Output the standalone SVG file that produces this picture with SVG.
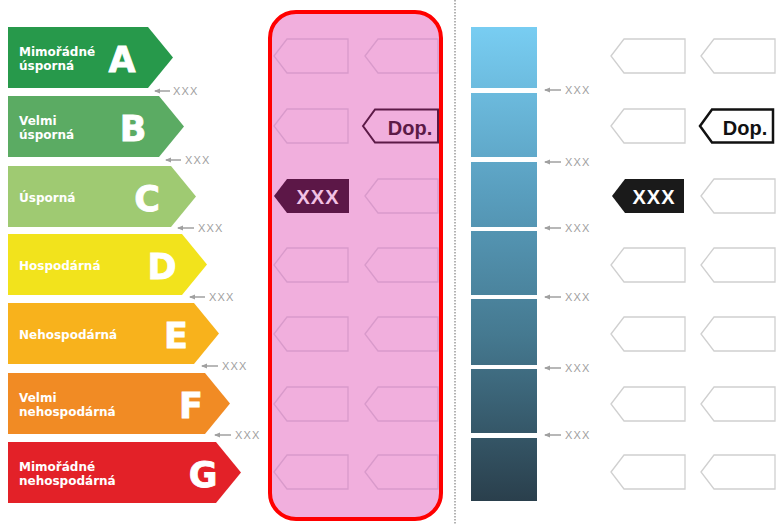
<svg xmlns="http://www.w3.org/2000/svg" width="779" height="524" viewBox="0 0 779 524">
<style>
.lbl{font-family:"DejaVu Sans","Liberation Sans",sans-serif;font-weight:bold;font-size:12px;fill:#fff}
.big{font-family:"DejaVu Sans","Liberation Sans",sans-serif;font-weight:bold;font-size:35px;fill:#fff;text-anchor:middle;stroke:#fff;stroke-width:0.8}
.xx{font-family:"Liberation Sans",sans-serif;font-size:11px;fill:#a0a0a0;letter-spacing:1.2px}
.ptag{fill:none;stroke:#d99acb;stroke-width:1.3}
.gtag{fill:#fff;stroke:#d0d0d0;stroke-width:1.3}
.tagtxt{font-family:"Liberation Sans",sans-serif;font-weight:bold;font-size:20px;text-anchor:middle}
.conn{stroke:#a0a0a0;stroke-width:1.5;fill:none}
</style>
<defs>
<path id="tag" d="M0,17 L13,0 L74,0 L74,34 L13,34 Z"/>
<path id="tag2" d="M0,17 L13,0 L73,0 L73,34 L13,34 Z"/>
<marker id="ah" markerWidth="6" markerHeight="6" refX="1" refY="3" orient="auto" markerUnits="userSpaceOnUse">
<path d="M6,0.5 L0,3 L6,5.5 Z" fill="#a0a0a0"/>
</marker>
<linearGradient id="blue" gradientUnits="userSpaceOnUse" x1="0" y1="27" x2="0" y2="501">
<stop offset="0" stop-color="#78cdf2"/>
<stop offset="0.35" stop-color="#599ebe"/>
<stop offset="0.65" stop-color="#457990"/>
<stop offset="1" stop-color="#2a3f4c"/>
</linearGradient>
</defs>
<rect width="779" height="524" fill="#fff"/>

<g id="classA">
<polygon points="8,27 148,27 173,57.5 148,88 8,88" fill="#27994b"/>
<text class="lbl" x="19" y="56">Mimořádné</text>
<text class="lbl" x="19" y="70">úsporná</text>
<text class="big" x="122" y="72">A</text>
</g>
<g id="classB">
<polygon points="8,96 159,96 184,126.5 159,157 8,157" fill="#5bab63"/>
<text class="lbl" x="19" y="125">Velmi</text>
<text class="lbl" x="19" y="139">úsporná</text>
<text class="big" x="133" y="141">B</text>
</g>
<g id="classC">
<polygon points="8,166 171,166 196,196.5 171,227 8,227" fill="#9fca72"/>
<text class="lbl" x="19" y="202">Úsporná</text>
<text class="big" x="147" y="211">C</text>
</g>
<g id="classD">
<polygon points="8,234 182,234 207,264.5 182,295 8,295" fill="#f2e31c"/>
<text class="lbl" x="19" y="270">Hospodárná</text>
<text class="big" x="162" y="279">D</text>
</g>
<g id="classE">
<polygon points="8,303 194,303 219,333.5 194,364 8,364" fill="#f8b21c"/>
<text class="lbl" x="19" y="339">Nehospodárná</text>
<text class="big" x="176" y="348">E</text>
</g>
<g id="classF">
<polygon points="8,373 205,373 230,403.5 205,434 8,434" fill="#f18b24"/>
<text class="lbl" x="19" y="402">Velmi</text>
<text class="lbl" x="19" y="416">nehospodárná</text>
<text class="big" x="191" y="418">F</text>
</g>
<g id="classG">
<polygon points="8,442 216,442 241,472.5 216,503 8,503" fill="#e32128"/>
<text class="lbl" x="19" y="471">Mimořádné</text>
<text class="lbl" x="19" y="485">nehospodárná</text>
<text class="big" x="203" y="487">G</text>
</g>

<g id="connectors">
<line class="conn" x1="155" y1="91" x2="170" y2="91" marker-start="url(#ah)"/>
<line class="conn" x1="166" y1="160" x2="181" y2="160" marker-start="url(#ah)"/>
<line class="conn" x1="178" y1="228" x2="194" y2="228" marker-start="url(#ah)"/>
<line class="conn" x1="190" y1="297" x2="205" y2="297" marker-start="url(#ah)"/>
<line class="conn" x1="202" y1="366" x2="218" y2="366" marker-start="url(#ah)"/>
<line class="conn" x1="215" y1="435" x2="231" y2="435" marker-start="url(#ah)"/>
<line class="conn" x1="545" y1="90" x2="561" y2="90" marker-start="url(#ah)"/>
<line class="conn" x1="545" y1="162" x2="561" y2="162" marker-start="url(#ah)"/>
<line class="conn" x1="545" y1="228" x2="561" y2="228" marker-start="url(#ah)"/>
<line class="conn" x1="545" y1="297" x2="561" y2="297" marker-start="url(#ah)"/>
<line class="conn" x1="545" y1="368" x2="561" y2="368" marker-start="url(#ah)"/>
<line class="conn" x1="545" y1="435" x2="561" y2="435" marker-start="url(#ah)"/>
</g>

<g id="thresholds">
<text class="xx" x="173" y="95">XXX</text>
<text class="xx" x="185" y="164">XXX</text>
<text class="xx" x="198" y="232">XXX</text>
<text class="xx" x="209" y="301">XXX</text>
<text class="xx" x="222" y="370">XXX</text>
<text class="xx" x="235" y="439">XXX</text>
<text class="xx" x="565" y="94">XXX</text>
<text class="xx" x="565" y="166">XXX</text>
<text class="xx" x="565" y="232">XXX</text>
<text class="xx" x="565" y="301">XXX</text>
<text class="xx" x="565" y="372">XXX</text>
<text class="xx" x="565" y="439">XXX</text>
</g>

<g id="pinkPanel">
<rect x="270" y="12" width="171" height="507" rx="26" ry="26" fill="#f1afdd"/>
<use href="#tag" class="ptag" x="274" y="39"/>
<use href="#tag2" class="ptag" x="365" y="39"/>
<use href="#tag" class="ptag" x="274" y="109"/>
<use href="#tag" class="ptag" x="274" y="248"/>
<use href="#tag2" class="ptag" x="365" y="179"/>
<use href="#tag2" class="ptag" x="365" y="248"/>
<use href="#tag" class="ptag" x="274" y="317"/>
<use href="#tag2" class="ptag" x="365" y="317"/>
<use href="#tag" class="ptag" x="274" y="387"/>
<use href="#tag2" class="ptag" x="365" y="387"/>
<use href="#tag" class="ptag" x="274" y="455"/>
<use href="#tag2" class="ptag" x="365" y="455"/>
</g>
<g id="pinkDop">
<path d="M363,126 L375,109.5 L438,109.5 L438,142.5 L375,142.5 Z" fill="#f1afdd" stroke="#5c1a47" stroke-width="2"/>
<text class="tagtxt" x="410" y="135" fill="#5c1a47">Dop.</text>
</g>
<g id="pinkXXX">
<path d="M274,196 L287,179 L349,179 L349,213 L287,213 Z" fill="#5c1747"/>
<text class="tagtxt" x="318" y="203.5" fill="#f2c2e4" letter-spacing="1">XXX</text>
</g>
<rect id="pinkBorder" x="270" y="12" width="171" height="507" rx="26" ry="26" fill="none" stroke="#ff0000" stroke-width="4"/>

<line id="divider" x1="455" y1="0" x2="455" y2="524" stroke="#9a9a9a" stroke-width="1.5" stroke-dasharray="1.5 1.5"/>

<g id="blueScale" fill="url(#blue)">
<rect x="471" y="27" width="66" height="61"/>
<rect x="471" y="93" width="66" height="64"/>
<rect x="471" y="162" width="66" height="65"/>
<rect x="471" y="231" width="66" height="64"/>
<rect x="471" y="299" width="66" height="66"/>
<rect x="471" y="369" width="66" height="64"/>
<rect x="471" y="438" width="66" height="63"/>
</g>

<g id="greyTags">
<use href="#tag" class="gtag" x="611" y="39"/>
<use href="#tag" class="gtag" x="701" y="39"/>
<use href="#tag" class="gtag" x="611" y="109"/>
<use href="#tag" class="gtag" x="701" y="179"/>
<use href="#tag" class="gtag" x="611" y="248"/>
<use href="#tag" class="gtag" x="701" y="248"/>
<use href="#tag" class="gtag" x="611" y="317"/>
<use href="#tag" class="gtag" x="701" y="317"/>
<use href="#tag" class="gtag" x="611" y="387"/>
<use href="#tag" class="gtag" x="701" y="387"/>
<use href="#tag" class="gtag" x="611" y="455"/>
<use href="#tag" class="gtag" x="701" y="455"/>
</g>
<g id="greyDop">
<path d="M700,126 L712,109.5 L773,109.5 L773,142.5 L712,142.5 Z" fill="#fff" stroke="#111" stroke-width="2.5"/>
<text class="tagtxt" x="745" y="135" fill="#111">Dop.</text>
</g>
<g id="greyXXX">
<path d="M612,196 L625,179 L684,179 L684,213 L625,213 Z" fill="#1a1a1a"/>
<text class="tagtxt" x="654" y="203.5" fill="#fff" letter-spacing="1">XXX</text>
</g>
</svg>
